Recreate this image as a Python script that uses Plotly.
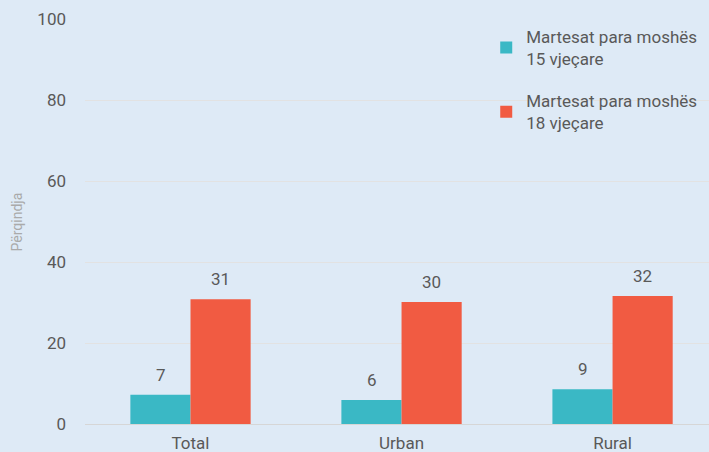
import plotly.graph_objects as go

categories = ["Total", "Urban", "Rural"]
series_names = ["Martesat para moshës<br>15 vjeçare", "Martesat para moshës<br>18 vjeçare"]
values_15 = [7.2, 5.9, 8.6]
values_18 = [30.8, 30.1, 31.6]
y_ticks = [0, 20, 40, 60, 80, 100]
y_title = "Përqindja"

colors = ["#3AB8C5", "#F15B42"]
font_family = "Roboto, 'Liberation Sans', sans-serif"
text_color = "#595959"

fig = go.Figure()
for i, (name, vals, col) in enumerate(zip(series_names, [values_15, values_18], colors)):
    fig.add_trace(go.Bar(
        x=categories, y=vals, name=name, legendgroup=f"g{i}",
        marker=dict(color=col, line=dict(width=0)),
    ))

# value labels above bars
for vals, shift in zip([values_15, values_18], [-30, 30]):
    for c, v in zip(categories, vals):
        fig.add_annotation(
            x=c, y=v, text=f"{v:.0f}", showarrow=False, xshift=shift,
            yanchor="bottom", yshift=8,
            font=dict(family=font_family, size=17, color=text_color),
        )

# y-axis title
fig.add_annotation(
    xref="paper", yref="paper", x=-0.109, y=0.5, text=y_title, textangle=-90,
    showarrow=False, xanchor="center", yanchor="middle",
    font=dict(family=font_family, size=14, color="#AAAAAA"),
)

fig.update_layout(
    width=709, height=452,
    margin=dict(l=85, r=0, t=19, b=28, autoexpand=False),
    paper_bgcolor="#DEEAF6", plot_bgcolor="#DEEAF6",
    barmode="group", bargap=0.43, bargroupgap=0,
    font=dict(family=font_family, size=17, color=text_color),
    showlegend=True,
    legend=dict(
        x=0.643, y=1.0, xanchor="left", yanchor="top",
        bgcolor="rgba(0,0,0,0)", tracegroupgap=17,
        font=dict(family=font_family, size=17, color=text_color),
        itemwidth=30,
    ),
    xaxis=dict(
        range=[-0.5, 2.457], showgrid=False, showline=True, automargin=False,
        linecolor="#D6D6D6", linewidth=1, ticks="", ticklabelstandoff=4,
        tickfont=dict(family=font_family, size=17, color=text_color),
    ),
    yaxis=dict(
        range=[0, 100], tickvals=y_ticks, showgrid=True, gridcolor="#E2E2E2",
        gridwidth=1, zeroline=False, ticks="", ticklabelstandoff=18, automargin=False,
        tickfont=dict(family=font_family, size=17, color=text_color),
    ),
)

fig.write_html("out.html", config={"displayModeBar": False},
               post_script="document.body.style.margin='0';")
